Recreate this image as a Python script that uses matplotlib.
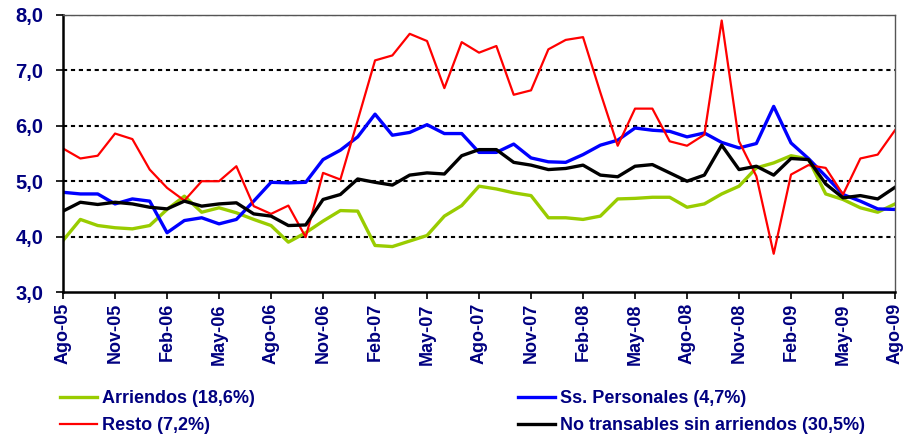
import matplotlib.pyplot as plt

# meses (Ago-05 .. Ago-09)
meses = ['Ene', 'Feb', 'Mar', 'Abr', 'May', 'Jun', 'Jul', 'Ago', 'Sep', 'Oct', 'Nov', 'Dic']
fechas = []
for k in range(49):
    m = (7 + k) % 12
    a = 5 + (7 + k) // 12
    fechas.append('%s-%02d' % (meses[m], a))

arriendos = [3.93, 4.31, 4.20, 4.16, 4.14, 4.20, 4.49, 4.73, 4.44, 4.52,
             4.43, 4.31, 4.20, 3.90, 4.07, 4.28, 4.47, 4.46, 3.84, 3.82,
             3.92, 4.02, 4.37, 4.56, 4.91, 4.86, 4.79, 4.74, 4.34, 4.34,
             4.31, 4.37, 4.68, 4.69, 4.71, 4.71, 4.53, 4.59, 4.77, 4.91,
             5.24, 5.33, 5.46, 5.40, 4.77, 4.67, 4.52, 4.44, 4.59]
ss_personales = [4.80, 4.77, 4.77, 4.59, 4.68, 4.64, 4.07, 4.29, 4.34, 4.23,
                 4.31, 4.64, 4.98, 4.97, 4.98, 5.39, 5.56, 5.80, 6.21, 5.83,
                 5.88, 6.02, 5.86, 5.86, 5.52, 5.52, 5.67, 5.42, 5.35, 5.34,
                 5.48, 5.65, 5.74, 5.96, 5.92, 5.90, 5.80, 5.87, 5.70, 5.60,
                 5.68, 6.35, 5.69, 5.41, 5.09, 4.76, 4.64, 4.50, 4.49]
resto = [5.59, 5.41, 5.46, 5.86, 5.76, 5.21, 4.88, 4.65, 5.00, 5.00,
         5.27, 4.55, 4.41, 4.56, 3.99, 5.15, 5.03, 6.10, 7.18, 7.27,
         7.66, 7.53, 6.68, 7.51, 7.32, 7.44, 6.56, 6.64, 7.38, 7.55,
         7.60, 6.60, 5.64, 6.31, 6.31, 5.72, 5.64, 5.84, 7.90, 5.72,
         5.09, 3.69, 5.12, 5.29, 5.24, 4.76, 5.41, 5.48, 5.92]
no_transables = [4.46, 4.62, 4.58, 4.62, 4.59, 4.53, 4.50, 4.64, 4.55, 4.59,
                 4.61, 4.41, 4.37, 4.20, 4.21, 4.67, 4.76, 5.04, 4.98, 4.93,
                 5.11, 5.15, 5.13, 5.46, 5.57, 5.57, 5.34, 5.29, 5.21, 5.23,
                 5.29, 5.11, 5.08, 5.27, 5.30, 5.15, 5.00, 5.11, 5.65, 5.21,
                 5.27, 5.11, 5.41, 5.39, 4.95, 4.70, 4.74, 4.68, 4.89]

plt.rcParams['font.family'] = ['Liberation Sans', 'DejaVu Sans']
azul = '#000080'

fig = plt.figure(figsize=(9.07, 4.38), dpi=100)
ax = fig.add_axes([0.0695, 0.3333, 0.9173, 0.6325])

x = list(range(len(fechas)))
ax.plot(x, arriendos, color='#99CC00', lw=2.4, label='Arriendos (18,6%)')
ax.plot(x, ss_personales, color='#0000FF', lw=2.4, label='Ss. Personales (4,7%)')
ax.plot(x, resto, color='#FF0000', lw=1.6, label='Resto (7,2%)')
ax.plot(x, no_transables, color='black', lw=2.4, label='No transables sin arriendos (30,5%)')

ax.set_xlim(0, 48)
ax.set_ylim(3, 8)
ax.set_yticks([3, 4, 5, 6, 7, 8])
ax.set_yticklabels(['3,0', '4,0', '5,0', '6,0', '7,0', '8,0'],
                   fontsize=14.5, fontweight='bold', color=azul)
ax.set_xticks(x[::3])
ax.set_xticklabels(fechas[::3], rotation=90, fontsize=13, fontweight='bold', color=azul)
ax.tick_params(direction='out', length=5, width=1.2, pad=3)
ax.tick_params(axis='y', pad=9)

for v in [4, 5, 6, 7, 8]:
    ax.axhline(v, color='black', lw=1.5, linestyle=(0, (2, 1.8)), zorder=0)

for s in ['top', 'right']:
    ax.spines[s].set_color('#555555')
    ax.spines[s].set_linewidth(1.0)
for s in ['left', 'bottom']:
    ax.spines[s].set_linewidth(1.8)

h, l = ax.get_legend_handles_labels()
orden = [0, 2, 1, 3]
leg = fig.legend([h[i] for i in orden], [l[i] for i in orden], ncol=2,
                 loc='upper left', bbox_to_anchor=(0.048, 0.146), frameon=False,
                 prop={'size': 13, 'weight': 'bold'}, handlelength=2.05,
                 handletextpad=0.28, columnspacing=14.6, labelspacing=0.55)
for t in leg.get_texts():
    t.set_color(azul)

fig.savefig('out.png', dpi=100)
